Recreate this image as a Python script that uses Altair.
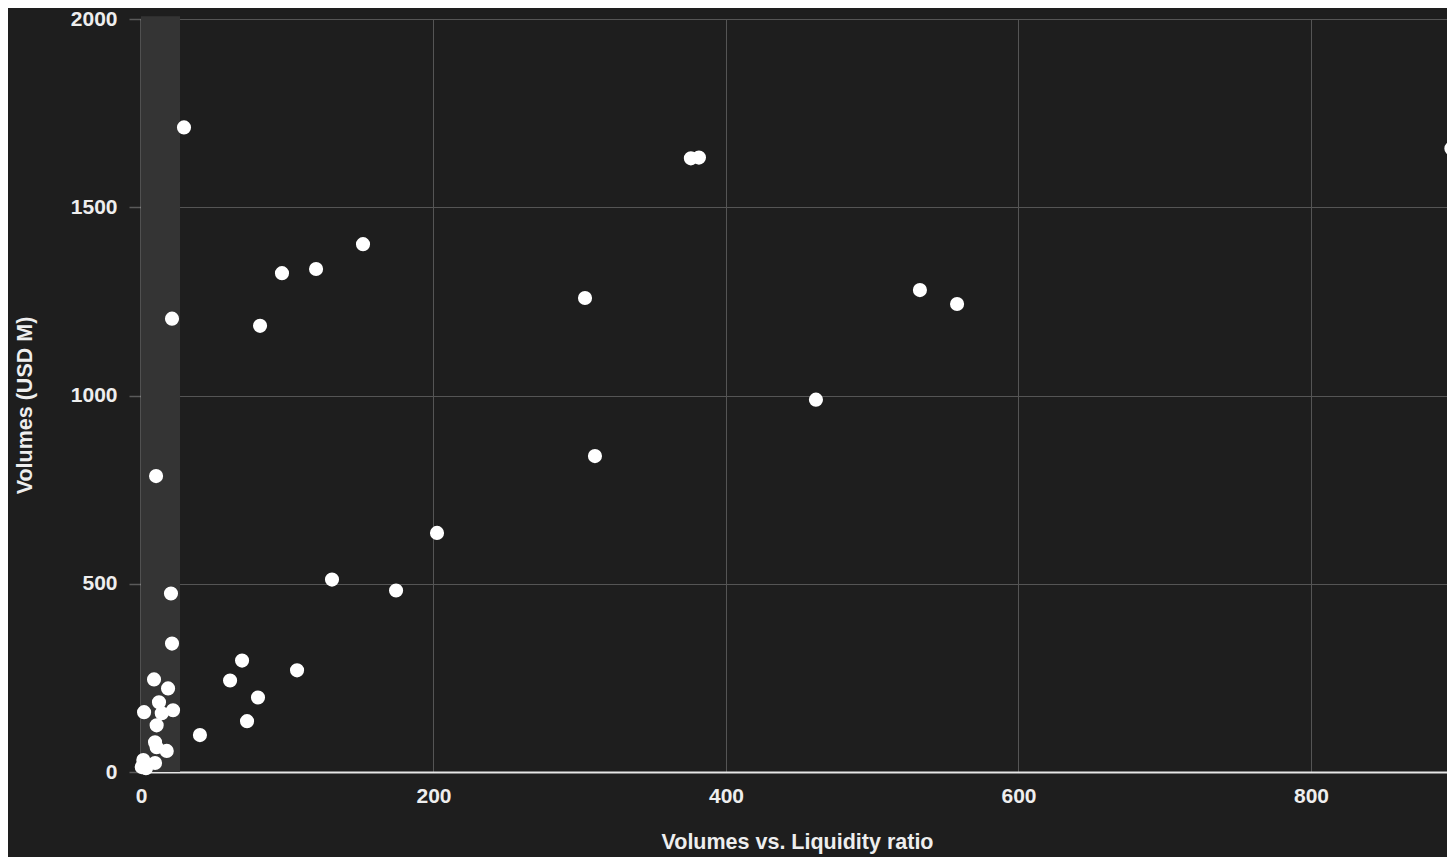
import altair as alt
import pandas as pd

# Scatter values: Volumes vs. Liquidity ratio (x) and Volumes in USD M (y)
ratio = [29.4, 376, 381.5, 896, 151.8, 119.7, 96.4, 21.2, 81.4, 303.6, 532.6, 558, 461.5,
         310.4, 10.3, 202.4, 130.6, 174.4, 20.5, 21.2, 69.1, 106.7, 60.9, 8.9, 18.5, 80,
         12.3, 2.1, 21.9, 14.2, 10.7, 72.5, 40.3, 9.6, 10.7, 17.6, 1.6, 9.6, 0.5, 3.4]
volumes = [1712, 1630, 1632, 1656, 1402, 1336, 1325, 1204, 1185, 1259, 1280, 1243, 989,
           839, 786, 635, 511, 482, 474, 341, 296, 270, 243, 246, 222, 198,
           185, 159, 164, 156, 124, 135, 98, 79, 66, 56, 32, 24, 13, 10]

band_start = [0]
band_end = [26.7]
band_low = [0]
band_high = [2007]

x_ticks = [0, 200, 400, 600, 800]
y_ticks = [0, 500, 1000, 1500, 2000]

df = pd.DataFrame({"ratio": ratio, "volumes": volumes})
band_df = pd.DataFrame({"x0": band_start, "x1": band_end, "y0": band_low, "y1": band_high})

FONT = "Liberation Sans"
TXT = "#eeeeee"
BG = "#1e1e1e"

xscale = alt.Scale(domain=[0, 893], nice=False, zero=False)
yscale = alt.Scale(domain=[0, 2000], nice=False)

band = alt.Chart(band_df).mark_rect(color="#343434", clip=False).encode(
    x=alt.X("x0:Q", scale=xscale),
    x2="x1:Q",
    y=alt.Y("y0:Q", scale=yscale),
    y2="y1:Q",
)

points = alt.Chart(df).mark_circle(size=200, color="#ffffff", opacity=1, clip=False).encode(
    x=alt.X(
        "ratio:Q",
        scale=xscale,
        title="Volumes vs. Liquidity ratio",
        axis=alt.Axis(
            values=x_ticks, format="d", ticks=False, grid=True, gridColor="#555555", gridWidth=1,
            domainColor="#e6e6e6", domainWidth=2, labelFlush=False,
            labelFont=FONT, labelFontSize=21, labelFontWeight="bold", labelColor=TXT,
            labelPadding=13, titleFont=FONT, titleFontSize=21.5, titleFontWeight="bold",
            titleColor=TXT, titlePadding=25, titleX=656,
        ),
    ),
    y=alt.Y(
        "volumes:Q",
        scale=yscale,
        title="Volumes (USD M)",
        axis=alt.Axis(
            values=y_ticks, format="d", ticks=True, tickSize=12, tickColor="#5a5a5a", tickWidth=1.5,
            grid=True, gridColor="#555555", gridWidth=1,
            domainColor="#e6e6e6", domainWidth=1.5, labelFlush=False,
            labelFont=FONT, labelFontSize=21, labelFontWeight="bold", labelColor=TXT,
            labelPadding=12, titleFont=FONT, titleFontSize=21.5, titleFontWeight="bold",
            titleColor=TXT, titlePadding=34, titleY=386,
        ),
    ),
)

chart = alt.layer(band, points).properties(
    width=1306,
    height=753,
    background=BG,
    padding={"left": 133, "top": 11, "right": 0, "bottom": 85},
    autosize=alt.AutoSizeParams(type="none"),
).configure_view(stroke=None)

chart.save("out.html", embed_options={"renderer": "svg", "actions": False})
